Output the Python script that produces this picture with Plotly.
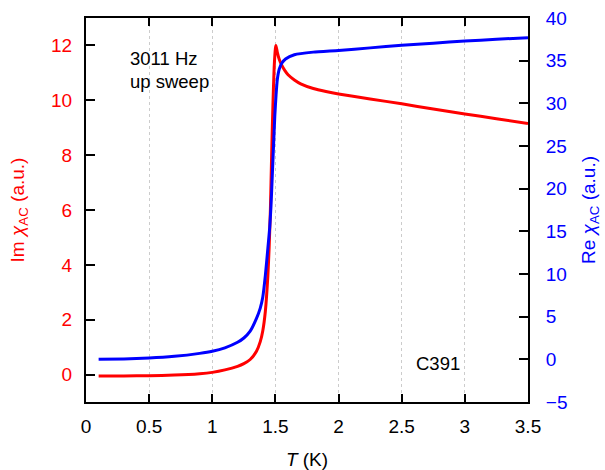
import plotly.graph_objects as go

# AC susceptibility of sample C391, 3011 Hz, up sweep
t_im = [0.1, 0.3, 0.5, 0.7, 0.9, 1.0, 1.1, 1.2, 1.25, 1.3, 1.35, 1.38, 1.4, 1.42,
        1.44, 1.45, 1.46, 1.47, 1.48, 1.49, 1.5, 1.504, 1.515, 1.53, 1.55, 1.575,
        1.6, 1.65, 1.7, 1.8, 1.9, 2.0, 2.25, 2.5, 2.75, 3.0, 3.25, 3.5]
im_chi = [-0.05, -0.05, -0.04, -0.02, 0.03, 0.08, 0.17, 0.3, 0.4, 0.55, 0.85, 1.2, 1.6, 2.3,
          3.6, 4.6, 6.0, 8.0, 9.8, 11.2, 11.9, 12.0, 11.75, 11.5, 11.28, 11.08,
          10.93, 10.74, 10.6, 10.43, 10.32, 10.23, 10.05, 9.87, 9.68, 9.5, 9.33, 9.15]

t_re = [0.1, 0.3, 0.5, 0.7, 0.9, 1.0, 1.1, 1.2, 1.25, 1.3, 1.35, 1.38, 1.4, 1.42,
        1.44, 1.455, 1.465, 1.475, 1.485, 1.495, 1.505, 1.515, 1.53, 1.55, 1.58,
        1.65, 1.8, 2.0, 2.25, 2.5, 2.75, 3.0, 3.25, 3.5]
re_chi = [0.0, 0.05, 0.15, 0.35, 0.7, 0.95, 1.35, 2.0, 2.5, 3.3, 4.8, 6.0, 7.3, 9.8,
          13.0, 15.5, 18.0, 21.5, 25.0, 28.5, 31.0, 32.8, 34.0, 34.7, 35.2,
          35.7, 36.0, 36.2, 36.5, 36.8, 37.05, 37.3, 37.5, 37.7]

x_ticks = [0, 0.5, 1, 1.5, 2, 2.5, 3, 3.5]
x_tick_text = ["0", "0.5", "1", "1.5", "2", "2.5", "3", "3.5"]
im_ticks = [0, 2, 4, 6, 8, 10, 12]
re_ticks = [-5, 0, 5, 10, 15, 20, 25, 30, 35, 40]

FONT = "Liberation Sans, Arial, sans-serif"
RED = "#ff0000"
BLUE = "#0000ff"
FS = 19

fig = go.Figure()
fig.add_trace(go.Scatter(x=t_im, y=im_chi, mode="lines", line=dict(color=RED, width=3,
                                                                  shape="spline", smoothing=0.5),
                         yaxis="y", showlegend=False))
fig.add_trace(go.Scatter(x=t_re, y=re_chi, mode="lines", line=dict(color=BLUE, width=3,
                                                                  shape="spline", smoothing=0.5),
                         yaxis="y2", showlegend=False))

fig.update_layout(
    width=605, height=470,
    margin=dict(l=86, r=77, t=18, b=68),
    paper_bgcolor="white", plot_bgcolor="white",
    font=dict(family=FONT, size=FS, color="black"),
    xaxis=dict(
        range=[0, 3.5], tickvals=x_ticks, ticktext=x_tick_text, automargin=False,
        showline=True, linecolor="black", linewidth=2, mirror="ticks",
        ticks="inside", ticklen=8, tickwidth=1.5, tickcolor="black",
        showgrid=True, gridcolor="#cccccc", griddash="dot", gridwidth=1,
        zeroline=False, ticklabelstandoff=6,
        tickfont=dict(size=FS),
        title=dict(text="<i>T</i> (K)", font=dict(size=FS), standoff=17),
    ),
    yaxis=dict(
        range=[-1, 13], tickvals=im_ticks, automargin=False,
        showline=True, linecolor="black", linewidth=2,
        ticks="inside", ticklen=9, tickwidth=1.5, tickcolor="black",
        showgrid=False, zeroline=False, ticklabelstandoff=8,
        tickfont=dict(color=RED, size=FS),
        title=dict(text="Im <i>χ</i><sub>AC</sub> (a.u.)", font=dict(color=RED, size=FS), standoff=21),
    ),
    yaxis2=dict(
        range=[-5, 40], tickvals=re_ticks, overlaying="y", side="right", automargin=False,
        showline=True, linecolor="black", linewidth=2,
        ticks="inside", ticklen=9, tickwidth=1.5, tickcolor="black",
        showgrid=False, zeroline=False, ticklabelstandoff=12,
        tickfont=dict(color=BLUE, size=FS),
        title=dict(text="Re <i>χ</i><sub>AC</sub> (a.u.)", font=dict(color=BLUE, size=FS), standoff=15),
    ),
    annotations=[
        dict(x=0.33, y=11.53, xref="x", yref="y", text="3011 Hz", showarrow=False,
             xanchor="left", yanchor="middle", font=dict(size=18.5)),
        dict(x=0.33, y=10.7, xref="x", yref="y", text="up sweep", showarrow=False,
             xanchor="left", yanchor="middle", font=dict(size=18.5)),
        dict(x=2.6, y=0.4, xref="x", yref="y", text="C391", showarrow=False,
             xanchor="left", yanchor="middle", font=dict(size=18.5)),
    ],
)

fig.write_html("out.html")
